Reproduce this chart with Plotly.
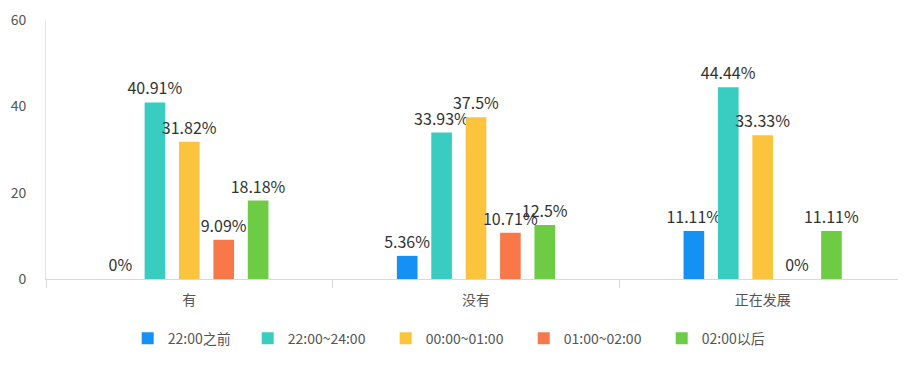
import plotly.graph_objects as go

categories = ["有", "没有", "正在发展"]
series_names = ["22:00之前", "22:00~24:00", "00:00~01:00", "01:00~02:00", "02:00以后"]
values = [
    [0, 5.36, 11.11],
    [40.91, 33.93, 44.44],
    [31.82, 37.5, 33.33],
    [9.09, 10.71, 0],
    [18.18, 12.5, 11.11],
]
labels = [
    ["0%", "5.36%", "11.11%"],
    ["40.91%", "33.93%", "44.44%"],
    ["31.82%", "37.5%", "33.33%"],
    ["9.09%", "10.71%", "0%"],
    ["18.18%", "12.5%", "11.11%"],
]
colors = ["#1591f5", "#38cdc0", "#fcc43c", "#f9784a", "#6dcc43"]
legend_widths = [75, 93, 93, 93, 93]
y_ticks = [0, 20, 40, 60]

font_family = "Noto Sans CJK SC, Noto Sans, sans-serif"

fig = go.Figure()
for name, vals, txt, col, lw in zip(series_names, values, labels, colors, legend_widths):
    fig.add_trace(go.Bar(
        name=name, x=categories, y=vals, text=txt,
        textposition="outside", cliponaxis=False, constraintext="none",
        textfont=dict(size=16, color="#333333", family=font_family),
        marker=dict(color=col, line=dict(width=0)),
        legendwidth=lw,
    ))

fig.update_layout(
    width=906, height=388,
    margin=dict(l=38, r=8, t=12, b=117, autoexpand=False),
    paper_bgcolor="white", plot_bgcolor="white",
    barmode="group", bargap=0.4, bargroupgap=0.4,
    font=dict(family=font_family, color="#555555"),
    showlegend=True,
    legend=dict(orientation="h", x=0.095, xanchor="left", y=-0.23, yanchor="middle",
                font=dict(size=14, color="#555555", family=font_family),
                itemwidth=30, traceorder="normal"),
)
fig.update_xaxes(
    showgrid=False, showline=True, linecolor="#d9d9d9", linewidth=1,
    ticks="outside", tickson="boundaries", ticklen=8, tickcolor="#d9d9d9",
    tickfont=dict(size=14, color="#555555", family=font_family),
    ticklabelstandoff=8, automargin=False,
)
fig.update_yaxes(
    range=[0, 60], tickvals=y_ticks, showgrid=False, zeroline=False,
    showline=True, linecolor="#e6e6e6", linewidth=1,
    tickfont=dict(size=14, color="#555555", family=font_family),
    ticklabelstandoff=16, ticklabeloverflow="allow", automargin=False,
)

fig.write_html("out.html")
